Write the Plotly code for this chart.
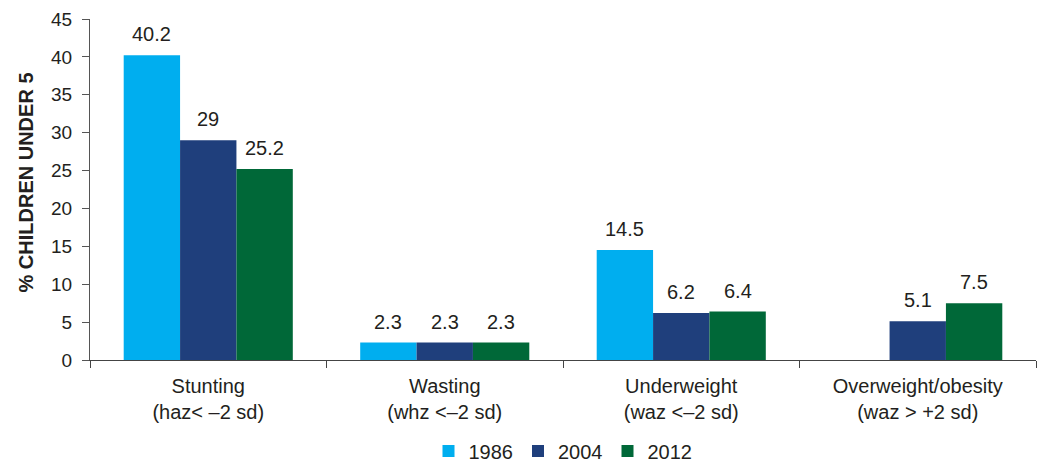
import plotly.graph_objects as go

categories = [
    "Stunting<br>(haz< \u20132 sd)",
    "Wasting<br>(whz <\u20132 sd)",
    "Underweight<br>(waz <\u20132 sd)",
    "Overweight/obesity<br>(waz > +2 sd)",
]
years = ["1986", "2004", "2012"]
values_1986 = [40.2, 2.3, 14.5, None]
values_2004 = [29, 2.3, 6.2, 5.1]
values_2012 = [25.2, 2.3, 6.4, 7.5]
colors = ["#00AEEF", "#1F3F7C", "#006838"]
y_ticks = [0, 5, 10, 15, 20, 25, 30, 35, 40, 45]
y_title = "% CHILDREN UNDER 5"

font_family = "Liberation Sans, Arial, sans-serif"
text_color = "#231F20"

# plot geometry (px)
margin_l, margin_r, margin_t, margin_b = 90, 8, 19, 106
plot_w = 1044 - margin_l - margin_r
bargap = 0.285
bar_px = plot_w / len(categories) * (1 - bargap) / len(years)

fig = go.Figure()
series = [values_1986, values_2004, values_2012]
for name, vals, col in zip(years, series, colors):
    fig.add_trace(go.Bar(
        name=name,
        x=categories,
        y=vals,
        marker=dict(color=col, line=dict(width=0)),
        hoverinfo="x+y+name",
    ))

# value labels above each bar
for i, vals in enumerate(series):
    shift = (i - 1) * bar_px
    for cat, v in zip(categories, vals):
        if v is None:
            continue
        fig.add_annotation(
            x=cat, y=v, text=f"{v:g}",
            showarrow=False, xanchor="center", yanchor="bottom",
            xshift=shift, yshift=8,
            font=dict(size=20, color=text_color, family=font_family),
        )

# vertical axis title
fig.add_annotation(
    xref="paper", yref="paper", x=0, y=0.5,
    xshift=-65, yshift=7,
    text=f"<b>{y_title}</b>", textangle=-90,
    showarrow=False, xanchor="center", yanchor="middle",
    font=dict(size=20, color=text_color, family=font_family),
)

fig.update_layout(
    width=1044,
    height=466,
    margin=dict(l=margin_l, r=margin_r, t=margin_t, b=margin_b),
    paper_bgcolor="white",
    plot_bgcolor="white",
    barmode="group",
    bargap=bargap,
    bargroupgap=0,
    font=dict(family=font_family, size=20, color=text_color),
    showlegend=True,
    legend=dict(
        orientation="h",
        x=0.5,
        xref="paper",
        xanchor="center",
        yref="container",
        y=1 - 451 / 466,
        yanchor="middle",
        font=dict(size=20, color=text_color),
        itemwidth=30,
        traceorder="normal",
    ),
)

fig.update_xaxes(
    showgrid=False,
    showline=True,
    linecolor="#444444",
    linewidth=1,
    ticks="outside",
    tickson="boundaries",
    ticklen=7,
    tickcolor="#444444",
    tickfont=dict(size=20, color=text_color),
    ticklabelstandoff=8,
    automargin=False,
)
fig.update_yaxes(
    range=[0, 45],
    tickvals=y_ticks,
    showgrid=False,
    zeroline=False,
    showline=True,
    linecolor="#555555",
    linewidth=1,
    ticks="outside",
    ticklen=7,
    tickcolor="#555555",
    tickfont=dict(size=19, color=text_color),
    ticklabelstandoff=6,
    automargin=False,
)

fig.write_html("out.html")
